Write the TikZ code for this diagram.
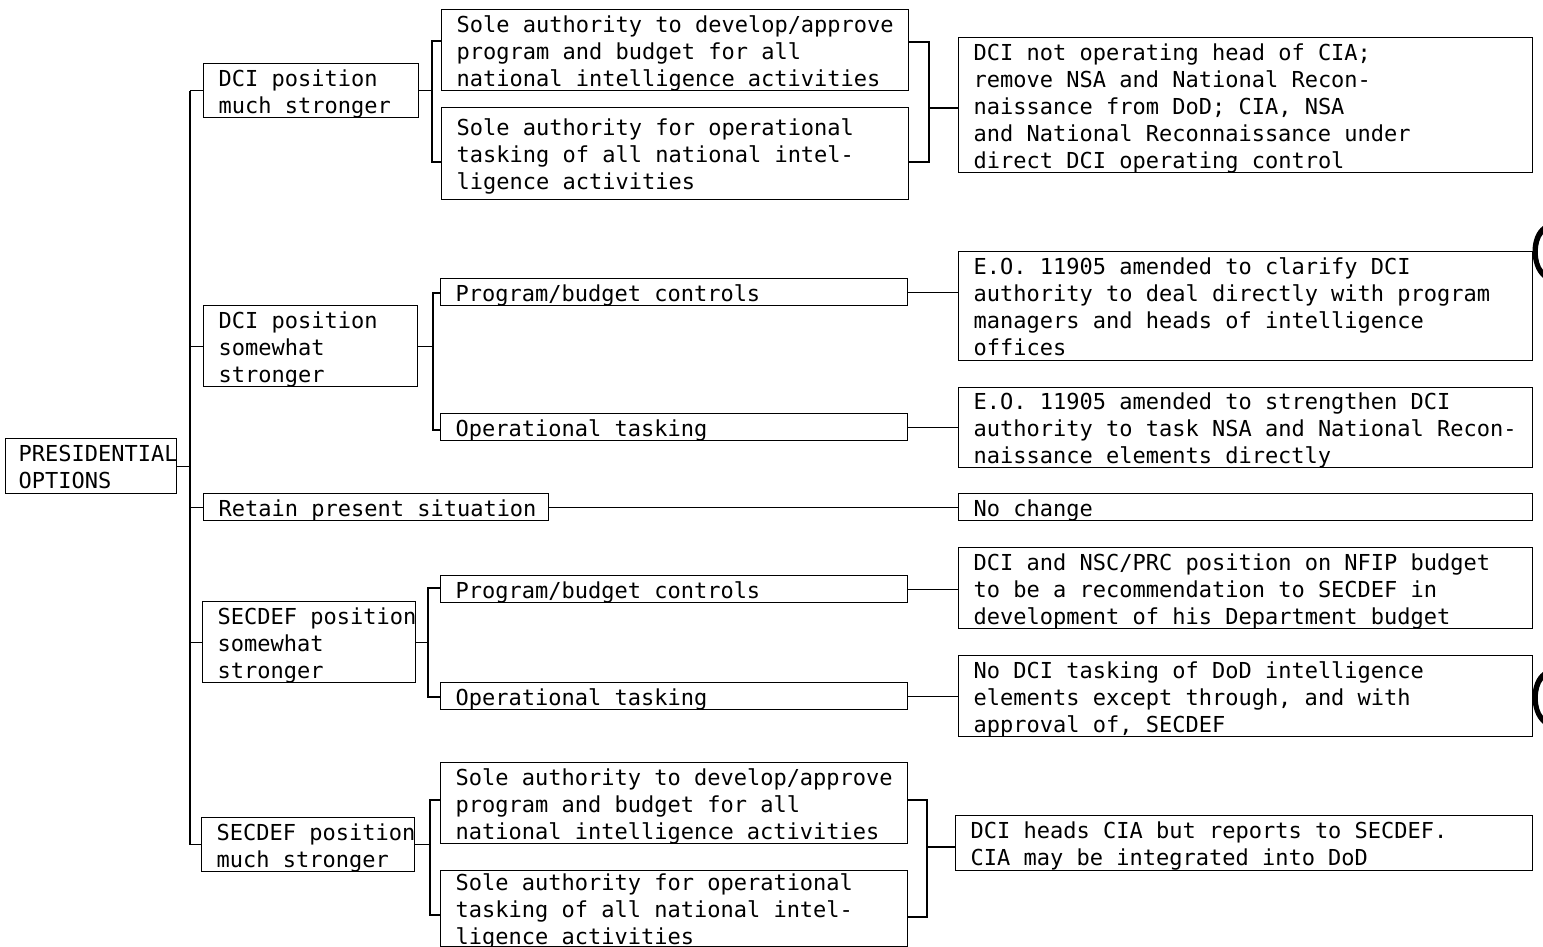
\documentclass[tikz,border=0pt]{standalone}
\usepackage{fontspec}
\newfontfamily\typefont{DejaVu Sans Mono}
\def\boxinset{15pt}
\tikzset{
  lpad/.code={\def\boxinset{#1}},
  box/.style={draw, line width=1.3pt, anchor=north west, inner xsep=0pt, inner ysep=0pt,
    align=left, font=\typefont\fontsize{22}{27}\selectfont, text height=18pt,
    execute at begin node={\leftskip=\boxinset\relax\frenchspacing\spaceskip=13.244pt\relax\xspaceskip=13.244pt\relax\hyphenpenalty=10000\exhyphenpenalty=10000\relax}},
  conn/.style={line width=1.3pt},
}
\begin{document}
\begin{tikzpicture}[x=1pt,y=-1pt]
\useasboundingbox (0,0) rectangle (1543,947);

% root
\node[box, lpad=13pt, text width=171pt, minimum height=55pt, text depth=27pt] (root) at (5,438) {PRESIDENTIAL\\OPTIONS};

% level 1
\node[box, text width=215pt, minimum height=54pt, text depth=27pt] (d1) at (203,63) {DCI position\\much stronger};
\node[box, text width=214pt, minimum height=81pt, text depth=54pt] (d2) at (203,305) {DCI position\\somewhat\\stronger};
\node[box, text width=345pt, minimum height=27pt, text depth=0pt] (ret) at (203,493) {Retain present situation};
\node[box, text width=213pt, minimum height=81pt, text depth=54pt] (s1) at (202,601) {SECDEF~position\\somewhat\\stronger};
\node[box, text width=213pt, minimum height=54pt, text depth=27pt] (s2) at (201,817) {SECDEF~position\\much stronger};

% level 2
\node[box, text width=467pt, minimum height=81pt, text depth=54pt] (a1) at (441,9) {Sole authority to develop/approve\\program and budget for all\\national intelligence activities};
\node[box, text width=467pt, minimum height=92pt, text depth=54pt] (a2) at (441,107) {Sole authority for operational\\tasking of all national intel-\\ligence activities};
\node[box, text width=467pt, minimum height=27pt, text depth=0pt] (p1) at (440,278) {Program/budget controls};
\node[box, text width=467pt, minimum height=27pt, text depth=0pt] (o1) at (440,413) {Operational tasking};
\node[box, text width=467pt, minimum height=27pt, text depth=0pt] (p2) at (440,575) {Program/budget controls};
\node[box, text width=467pt, minimum height=27pt, text depth=0pt] (o2) at (440,682) {Operational tasking};
\node[box, text width=467pt, minimum height=81pt, text depth=54pt] (a3) at (440,762) {Sole authority to develop/approve\\program and budget for all\\national intelligence activities};
\node[box, text width=467pt, minimum height=76pt, text depth=54pt] (a4) at (440,870) {Sole authority for operational\\tasking of all national intel-\\ligence activities};

% outcomes
\node[box, text width=574pt, minimum height=135pt, text depth=108pt] (b1) at (958,37) {DCI not operating head of CIA;\\remove NSA and National Recon-\\naissance from DoD; CIA, NSA\\and National Reconnaissance under\\direct DCI operating control};
\node[box, text width=574pt, minimum height=109pt, text depth=81pt] (b2) at (958,251) {E.O. 11905 amended to clarify DCI\\authority to deal directly with program\\managers and heads of intelligence\\offices};
\node[box, text width=574pt, minimum height=80pt, text depth=54pt] (b3) at (958,387) {E.O. 11905 amended to strengthen DCI\\authority to task NSA and National Recon-\\naissance elements directly};
\node[box, text width=574pt, minimum height=27pt, text depth=0pt] (nc) at (958,493) {No change};
\node[box, text width=574pt, minimum height=81pt, text depth=54pt] (b4) at (958,547) {DCI and NSC/PRC position on NFIP budget\\to be a recommendation to SECDEF in\\development of his Department budget};
\node[box, text width=574pt, minimum height=81pt, text depth=54pt] (b5) at (958,655) {No DCI tasking of DoD intelligence\\elements except through, and with\\approval of, SECDEF};
\node[box, text width=577pt, minimum height=55pt, text depth=27pt] (b6) at (955,815) {DCI heads CIA but reports to SECDEF.\\CIA may be integrated into DoD};

% trunk
\coordinate (tr) at (190,0);
\draw[conn] (root.east) -- (root.east -| tr);
\draw[conn] (tr |- d1.west) -- (tr |- s2.west);
\foreach \n in {d1,d2,ret,s1,s2} \draw[conn] (tr |- \n.west) -- (\n.west);

% DCI much stronger
\coordinate (k1t) at (432,41); \coordinate (k1b) at (432,162);
\draw[conn] (d1.east) -- (d1.east -| k1t);
\draw[conn] (k1t -| a1.west) -- (k1t) -- (k1b) -- (k1b -| a2.west);
\coordinate (m1t) at (929,42); \coordinate (m1b) at (929,162); \coordinate (m1c) at (929,108);
\draw[conn] (m1t -| a1.east) -- (m1t) -- (m1b) -- (m1b -| a2.east);
\draw[conn] (m1c) -- (m1c -| b1.west);

% DCI somewhat stronger
\coordinate (k2t) at (433,293); \coordinate (k2b) at (433,430);
\draw[conn] (d2.east) -- (d2.east -| k2t);
\draw[conn] (k2t -| p1.west) -- (k2t) -- (k2b) -- (k2b -| o1.west);
\draw[conn] (p1.east) -- (p1.east -| b2.west);
\draw[conn] (o1.east) -- (o1.east -| b3.west);

% retain
\draw[conn] (ret.east) -- (ret.east -| nc.west);

% SECDEF somewhat stronger
\coordinate (k3t) at (428,588); \coordinate (k3b) at (428,697);
\draw[conn] (s1.east) -- (s1.east -| k3t);
\draw[conn] (k3t -| p2.west) -- (k3t) -- (k3b) -- (k3b -| o2.west);
\draw[conn] (p2.east) -- (p2.east -| b4.west);
\draw[conn] (o2.east) -- (o2.east -| b5.west);

% SECDEF much stronger
\coordinate (k4t) at (430,800); \coordinate (k4b) at (430,915);
\draw[conn] (s2.east) -- (s2.east -| k4t);
\draw[conn] (k4t -| a3.west) -- (k4t) -- (k4b) -- (k4b -| a4.west);
\coordinate (m2t) at (927,800); \coordinate (m2b) at (927,917); \coordinate (m2c) at (927,847);
\draw[conn] (m2t -| a3.east) -- (m2t) -- (m2b) -- (m2b -| a4.east);
\draw[conn] (m2c) -- (m2c -| b6.west);

% punch marks at right edge
\fill (1543,226) .. controls (1529,236) and (1529,266) .. (1543,278) -- (1543,270) .. controls (1536,262) and (1536,242) .. (1543,234) -- cycle;
\fill (1543,672) .. controls (1529,682) and (1529,712) .. (1543,724) -- (1543,716) .. controls (1536,708) and (1536,688) .. (1543,680) -- cycle;
\end{tikzpicture}
\end{document}
